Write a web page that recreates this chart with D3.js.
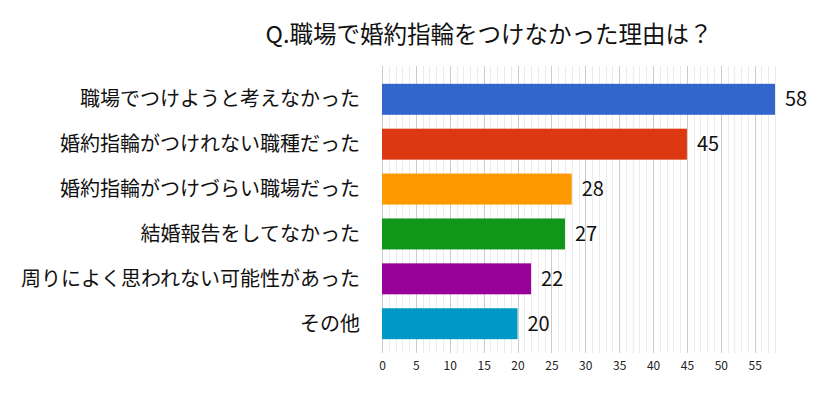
<!DOCTYPE html>
<html>
<head>
<meta charset="utf-8">
<script src="https://cdn.jsdelivr.net/npm/d3@7"></script>
<style>
  body { margin: 0; background: #fff; }
  text { font-family: "Noto Sans CJK JP", "Noto Sans", sans-serif; }
</style>
</head>
<body>
<svg id="chart" width="829" height="405"></svg>
<script>
var title = 'Q.職場で婚約指輪をつけなかった理由は？'
var categories = [
  '職場でつけようと考えなかった',
  '婚約指輪がつけれない職種だった',
  '婚約指輪がつけづらい職場だった',
  '結婚報告をしてなかった',
  '周りによく思われない可能性があった',
  'その他'
]
var values = [58, 45, 28, 27, 22, 20]
var colors = ['#3366cc', '#dc3912', '#ff9900', '#109618', '#990099', '#0099c6']
var tickValues = [0, 5, 10, 15, 20, 25, 30, 35, 40, 45, 50, 55]

var svg = d3.select('#chart')

// plot area
var plot = {left: 382, right: 775, top: 66, bottom: 353}

var xScale = d3.scaleLinear()
    .domain([0, 58])
    .range([plot.left, plot.right])

var yScale = d3.scaleBand()
    .domain(categories)
    .range([plot.top + 3, plot.bottom + 1])
    .paddingInner(0.31)
    .paddingOuter(0.33)

// minor grid, every 1
svg.append('g')
    .selectAll('line')
    .data(d3.range(0, 59).filter(d => d % 5 != 0))
    .enter()
    .append('line')
    .attr('x1', d => Math.round(xScale(d)) + 0.5)
    .attr('x2', d => Math.round(xScale(d)) + 0.5)
    .attr('y1', plot.top)
    .attr('y2', plot.bottom)
    .attr('stroke', '#ebebeb')
    .attr('stroke-width', 1)

// major grid, every 5
svg.append('g')
    .selectAll('line')
    .data(tickValues)
    .enter()
    .append('line')
    .attr('x1', d => Math.round(xScale(d)) + 0.5)
    .attr('x2', d => Math.round(xScale(d)) + 0.5)
    .attr('y1', plot.top)
    .attr('y2', plot.bottom)
    .attr('stroke', '#cccccc')
    .attr('stroke-width', 1)

// x axis labels
var xAxis = d3.axisBottom(xScale)
    .tickValues(tickValues)
    .tickSize(0)
    .tickPadding(8)

var gx = svg.append('g')
    .attr('transform', 'translate(0,' + plot.bottom + ')')
    .call(xAxis)
gx.select('.domain').remove()
gx.selectAll('text')
    .attr('font-size', 12)
    .attr('fill', '#222')
    .style('font-family', '"Noto Sans CJK JP", sans-serif')

// bars
svg.append('g')
    .selectAll('rect')
    .data(values)
    .enter()
    .append('rect')
    .attr('x', xScale(0))
    .attr('y', (d, i) => yScale(categories[i]))
    .attr('width', d => xScale(d) - xScale(0))
    .attr('height', yScale.bandwidth())
    .attr('fill', (d, i) => colors[i])

// value labels
svg.append('g')
    .selectAll('text')
    .data(values)
    .enter()
    .append('text')
    .attr('x', d => xScale(d) + 10)
    .attr('y', (d, i) => yScale(categories[i]) + yScale.bandwidth() / 2)
    .attr('dy', '0.35em')
    .attr('font-size', 20)
    .attr('fill', '#111')
    .text(d => d)

// category labels
svg.append('g')
    .selectAll('text')
    .data(categories)
    .enter()
    .append('text')
    .attr('x', 360)
    .attr('y', d => yScale(d) + yScale.bandwidth() / 2)
    .attr('dy', '0.35em')
    .attr('text-anchor', 'end')
    .attr('font-size', 20)
    .attr('fill', '#111')
    .text(d => d)

// title
svg.append('text')
    .attr('x', 489)
    .attr('y', 35)
    .attr('dy', '0.35em')
    .attr('text-anchor', 'middle')
    .attr('font-size', 23.5)
    .attr('fill', '#111')
    .text(title)
</script>
</body>
</html>
